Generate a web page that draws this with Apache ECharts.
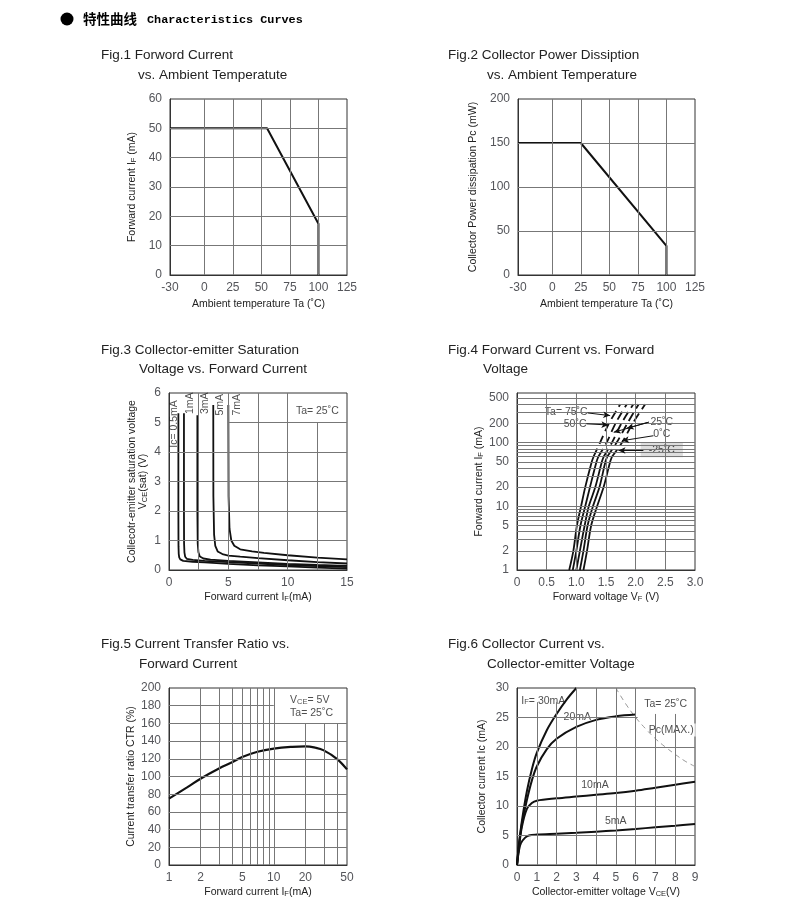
<!DOCTYPE html>
<html><head><meta charset="utf-8">
<script src="https://cdn.jsdelivr.net/npm/echarts@6/dist/echarts.min.js"></script>
<style>html,body{margin:0;padding:0;background:#fff}#c{width:800px;height:915px}</style>
</head><body><div id="c"></div>
<script>
const FONT = "'Liberation Sans', Arial, Helvetica, sans-serif";
const GRID = '#777';
const INK = '#111';

// ---------- Fig.1 Forward current vs ambient temperature
const fig1Ta = [-30, 55, 100, 100];
const fig1IF = [50, 50, 17.5, 0];
const fig1XTicks = [-30, 0, 25, 50, 75, 100, 125];
const fig1XGrid = [0, 25, 50, 75, 100];
const fig1YGrid = [10, 20, 30, 40, 50];

// ---------- Fig.2 Collector power dissipation vs ambient temperature
const fig2Ta = [-30, 25, 100, 100];
const fig2Pc = [150, 150, 33, 0];
const fig2XTicks = [-30, 0, 25, 50, 75, 100, 125];
const fig2XGrid = [0, 25, 50, 75, 100];
const fig2YGrid = [50, 100, 150];

// ---------- Fig.3 VCE(sat) vs IF  ([IF mA, VCE V])
const fig3Ic05 = [[0.79,5.31],[0.79,2],[0.80,0.8],[0.82,0.55],[0.86,0.43],[0.95,0.36],[1.2,0.31],[2,0.28],[3,0.26],[5,0.21],[7.5,0.16],[10,0.12],[12.5,0.08],[15,0.05]];
const fig3Ic1  = [[1.26,5.31],[1.26,2],[1.27,0.9],[1.30,0.6],[1.36,0.45],[1.5,0.38],[2,0.34],[3,0.31],[5,0.27],[7.5,0.22],[10,0.17],[12.5,0.13],[15,0.10]];
const fig3Ic3  = [[2.39,5.25],[2.39,2],[2.42,0.9],[2.48,0.6],[2.6,0.46],[2.9,0.39],[3.5,0.35],[5,0.31],[7.5,0.26],[10,0.21],[12.5,0.17],[15,0.14]];
const fig3Ic5  = [[3.73,5.59],[3.74,2.5],[3.80,1.2],[3.9,0.82],[4.1,0.63],[4.5,0.54],[5,0.49],[6,0.45],[7.5,0.40],[10,0.33],[12.5,0.27],[15,0.22]];
const fig3Ic7  = [[5.00,5.59],[5.02,2.5],[5.10,1.4],[5.25,1.0],[5.5,0.82],[6,0.70],[7,0.63],[8,0.58],[10,0.50],[12.5,0.42],[15,0.36]];
const fig3LabelText = ['Ic= 0.5mA', '1mA', '3mA', '5mA', '7mA'];
const fig3LabelX = [0.45, 1.81, 3.03, 4.3, 5.7];
const fig3LabelY = [4.95, 5.65, 5.65, 5.6, 5.6];
const fig3XGrid = [2.5, 5, 7.5, 10, 12.5];
const fig3YGrid = [1, 2, 3, 4, 5];

// ---------- Fig.4 IF vs VF (log IF)
const fig4IFSolid = [1, 2, 5, 10, 20, 50, 60];
const fig4IFDash = [60, 100, 200, 400];
const fig4Temps = ['75', '50', '25', '0', '-25'];
const fig4VFSolid = [
  [0.88, 0.95, 1.01, 1.08, 1.15, 1.26, 1.29],
  [0.94, 1.00, 1.07, 1.15, 1.23, 1.34, 1.37],
  [1.00, 1.06, 1.14, 1.21, 1.32, 1.43, 1.46],
  [1.06, 1.12, 1.19, 1.28, 1.39, 1.49, 1.52],
  [1.12, 1.18, 1.25, 1.35, 1.46, 1.57, 1.60]
];
const fig4VFDash = [
  [1.29, 1.40, 1.55, 1.74],
  [1.37, 1.51, 1.66, 1.85],
  [1.46, 1.60, 1.76, 1.96],
  [1.52, 1.68, 1.86, 2.05],
  [1.60, 1.77, 1.95, 2.16]
];
const fig4YTicks = [1, 2, 5, 10, 20, 50, 100, 200, 500];
const fig4XGrid = [0.5, 1, 1.5, 2, 2.5];
const fig4YGrid = [2,3,4,5,6,7,8,9,10,20,30,40,50,60,70,80,90,100,200,300,400,500];
const fig4Labels = [
  {t: 'Ta= 75˚C', x: 0.83, y: 305},
  {t: '50˚C', x: 0.98, y: 197},
  {t: '25˚C', x: 2.44, y: 211},
  {t: '0˚C', x: 2.44, y: 137},
  {t: '-25˚C', x: 2.44, y: 77, bg: '#d6d6d6'}
];
const fig4Leaders = [
  [[1.19, 292], [1.57, 265]],
  [[1.17, 197], [1.54, 189]],
  [[2.22, 209], [1.85, 168]],
  [[2.22, 209], [1.63, 145]],
  [[2.30, 128], [1.77, 107]],
  [[2.13, 75], [1.71, 75]]
];

// ---------- Fig.5 CTR vs IF (log IF)
const fig5IF = [1, 1.5, 2, 3, 4, 5, 7, 10, 15, 20, 25, 30, 40, 50];
const fig5CTR = [75, 88, 97.5, 109, 116, 122, 128, 131.5, 133.5, 134, 132.5, 129.5, 120, 108];
const fig5XTicks = [1, 2, 5, 10, 20, 50];
const fig5XGrid = [2, 3, 4, 5, 6, 7, 8, 9, 10, 20, 30, 40];
const fig5YGrid = [20, 40, 60, 80, 100, 120, 140, 160, 180];

// ---------- Fig.6 Ic vs VCE
const fig6IF30 = [[0,0],[0.1,3.5],[0.25,7.5],[0.5,12.5],[0.75,16.2],[1,19],[1.5,22.8],[2,25.6],[2.5,28],[3,30]];
const fig6IF20 = [[0,0],[0.1,3.5],[0.25,7],[0.5,11],[0.75,14.3],[1,16.7],[1.5,19.6],[2,21.4],[3,23.4],[4,24.6],[5,25.2],[6,25.5]];
const fig6IF10 = [[0,0],[0.1,3],[0.25,6.5],[0.5,9.5],[0.75,10.5],[1,10.9],[2,11.3],[3,11.6],[4,11.9],[5,12.2],[6,12.6],[7,13.1],[8,13.6],[9,14.1]];
const fig6IF5  = [[0,0],[0.1,2.5],[0.2,3.7],[0.4,4.6],[0.6,5.0],[1,5.15],[2,5.3],[3,5.45],[4,5.65],[5,5.85],[6,6.1],[7,6.4],[8,6.65],[9,6.95]];
const fig6PcMax = [[5,30],[5.5,27.3],[6,25],[6.5,23.1],[7,21.4],[7.5,20],[8,18.75],[8.5,17.6],[9,16.7]];
const fig6XGrid = [1, 2, 3, 4, 5, 6, 7, 8];
const fig6YGrid = [5, 10, 15, 20, 25];

// ---------- helpers
const RICH = {
  a: {fontSize: 10.5, fontFamily: FONT, color: '#222'},
  s: {fontSize: 7.5, fontFamily: FONT, color: '#222', verticalAlign: 'bottom'}
};

function gridSeries(gi, xs, ys, xr, yr, vr, hr) {
  const data = [];
  xs.forEach(x => { const r = (vr && vr(x)) || yr; data.push([{coord: [x, r[0]]}, {coord: [x, r[1]]}]); });
  ys.forEach(y => { const r = (hr && hr(y)) || xr; data.push([{coord: [r[0], y]}, {coord: [r[1], y]}]); });
  return {type: 'line', xAxisIndex: gi, yAxisIndex: gi, data: [], z: 1, silent: true,
    markLine: {silent: true, symbol: ['none', 'none'], label: {show: false},
      lineStyle: {color: GRID, width: 1, type: 'solid'}, emphasis: {disabled: true}, data}};
}
function curve(gi, data, extra) {
  return Object.assign({type: 'line', xAxisIndex: gi, yAxisIndex: gi, data, showSymbol: false, symbol: 'none',
    z: 3, silent: true, lineStyle: {color: INK, width: 2}}, extra || {});
}
function labelSeries(gi, items) {
  return {type: 'scatter', xAxisIndex: gi, yAxisIndex: gi, symbolSize: 0, z: 2, silent: true,
    data: items.map(it => ({value: [it.x, it.y], label: Object.assign({show: true, position: 'inside',
      formatter: it.t, color: '#222', fontSize: 10.5, fontFamily: FONT, rich: RICH,
      backgroundColor: it.bg || 'transparent', padding: it.pad || [1, 2]}, it.style || {})}))};
}
function axis(gi, o) {
  const base = {gridIndex: gi, nameLocation: 'middle',
    axisLine: {show: true, onZero: false, lineStyle: {color: '#333', width: 1}},
    axisTick: {show: false}, splitLine: {show: false},
    axisLabel: Object.assign({fontSize: 10.5, color: '#222', fontFamily: FONT}, o.axisLabel || {}),
    nameTextStyle: {rich: RICH, fontFamily: FONT, fontSize: 10.5, color: '#222'}};
  const r = Object.assign(base, o);
  r.axisLabel = base.axisLabel;
  return r;
}

const xAxis = [
  axis(0, {type: 'value', min: -30, max: 125, axisLabel: {customValues: fig1XTicks, margin: 7}, name: '{a|Ambient temperature Ta (˚C)}', nameGap: 24}),
  axis(1, {type: 'value', min: -30, max: 125, axisLabel: {customValues: fig2XTicks, margin: 7}, name: '{a|Ambient temperature Ta (˚C)}', nameGap: 24}),
  axis(2, {type: 'value', min: 0, max: 15, interval: 5, axisLabel: {margin: 7}, name: '{a|Forward current I}{s|F}{a|(mA)}', nameGap: 22}),
  axis(3, {type: 'value', min: 0, max: 3, interval: 0.5, axisLabel: {margin: 7, formatter: v => v === 0 ? '0' : v.toFixed(1)}, name: '{a|Forward voltage V}{s|F}{a| (V)}', nameGap: 22}),
  axis(4, {type: 'log', logBase: 10, min: 1, max: 50, axisLabel: {customValues: fig5XTicks, margin: 7}, name: '{a|Forward current I}{s|F}{a|(mA)}', nameGap: 22}),
  axis(5, {type: 'value', min: 0, max: 9, interval: 1, axisLabel: {margin: 7}, name: '{a|Collector-emitter voltage V}{s|CE}{a|(V)}', nameGap: 22})
];
const yAxis = [
  axis(0, {type: 'value', min: 0, max: 60, interval: 10, axisLabel: {margin: 8}, name: '{a|Forward current I}{s|F}{a| (mA)}', nameGap: 32, nameRotate: 90}),
  axis(1, {type: 'value', min: 0, max: 200, interval: 50, axisLabel: {margin: 8}, name: '{a|Collector Power dissipation Pc (mW)}', nameGap: 39, nameRotate: 90}),
  axis(2, {type: 'value', min: 0, max: 6, interval: 1, axisLabel: {margin: 8}, name: '{a|Collecotr-emitter saturation voltage}\n{a|V}{s|CE}{a|(sat) (V)}', nameGap: 20, nameRotate: 90}),
  axis(3, {type: 'log', logBase: 10, min: 1, max: 600, axisLabel: {customValues: fig4YTicks, margin: 8}, name: '{a|Forward current I}{s|F}{a| (mA)}', nameGap: 27, nameRotate: 90}),
  axis(4, {type: 'value', min: 0, max: 200, interval: 20, axisLabel: {margin: 8}, name: '{a|Current transfer ratio CTR (%)}', nameGap: 30, nameRotate: 90}),
  axis(5, {type: 'value', min: 0, max: 30, interval: 5, axisLabel: {margin: 8}, name: '{a|Collector current Ic (mA)}', nameGap: 29, nameRotate: 90})
];

const grid = [
  {left: 170, top: 99, width: 177, height: 176},
  {left: 518, top: 99, width: 177, height: 176},
  {left: 169, top: 393, width: 178, height: 177},
  {left: 517, top: 393, width: 178, height: 177},
  {left: 169, top: 688, width: 178, height: 177},
  {left: 517, top: 688, width: 178, height: 177}
].map(g => Object.assign({show: true, borderColor: '#333', borderWidth: 1, backgroundColor: 'transparent', containLabel: false, outerBoundsMode: 'none'}, g));

const series = [];
// Fig1
series.push(gridSeries(0, fig1XGrid, fig1YGrid, [-30, 125], [0, 60]));
series.push(curve(0, fig1Ta.map((t, i) => [t, fig1IF[i]])));
// Fig2
series.push(gridSeries(1, fig2XGrid, fig2YGrid, [-30, 125], [0, 200]));
series.push(curve(1, fig2Ta.map((t, i) => [t, fig2Pc[i]])));
// Fig3
series.push(gridSeries(2, fig3XGrid, fig3YGrid, [0, 15], [0, 6],
  x => x === 12.5 ? [0, 5] : null, y => y === 5 ? [5, 15] : null));
[fig3Ic05, fig3Ic1, fig3Ic3, fig3Ic5, fig3Ic7].forEach(d => series.push(curve(2, d, {lineStyle: {color: INK, width: 1.8}})));
series.push(labelSeries(2, fig3LabelText.map((t, i) => ({t, x: fig3LabelX[i], y: fig3LabelY[i], style: {rotate: 90}}))
  .concat([{t: 'Ta= 25˚C', x: 12.5, y: 5.4}])));
// Fig4
series.push(gridSeries(3, fig4XGrid, fig4YGrid, [0, 3], [1, 600]));
fig4Temps.forEach((tc, k) => {
  series.push(curve(3, fig4IFSolid.map((v, i) => [fig4VFSolid[k][i], v]), {smooth: 0.3, lineStyle: {color: INK, width: 1.8}}));
  series.push(curve(3, fig4IFDash.map((v, i) => [fig4VFDash[k][i], v]), {smooth: 0.3, lineStyle: {color: INK, width: 1.8, type: [9, 5]}}));
});
series.push(labelSeries(3, fig4Labels.map(l => ({t: l.t, x: l.x, y: l.y, bg: l.bg || '#fff', pad: l.bg ? [2, 8] : [1, 2]}))));
series.push({type: 'line', xAxisIndex: 3, yAxisIndex: 3, data: [], z: 4, silent: true,
  markLine: {silent: true, symbol: ['none', 'arrow'], symbolSize: [5, 7], label: {show: false},
    lineStyle: {color: INK, width: 1, type: 'solid'}, emphasis: {disabled: true},
    data: fig4Leaders.map(s => [{coord: s[0]}, {coord: s[1]}])}});
// Fig5
series.push(gridSeries(4, fig5XGrid, fig5YGrid, [1, 50], [0, 200],
  x => x >= 20 ? [0, 160] : null, y => y === 180 ? [1, 10] : null));
series.push(curve(4, fig5IF.map((v, i) => [v, fig5CTR[i]]), {smooth: 0.4, lineStyle: {color: INK, width: 2.2}}));
series.push(labelSeries(4, [
  {t: '{a|V}{s|CE}{a|= 5V}', x: 13.7, y: 186.4, style: {align: 'left'}},
  {t: 'Ta= 25˚C', x: 13.7, y: 172, style: {align: 'left'}}
]));
// Fig6
series.push(gridSeries(5, fig6XGrid, fig6YGrid, [0, 9], [0, 30],
  x => x <= 2 ? [0, 27.6] : (x >= 7 ? [0, 25.6] : null), y => y === 25 ? [0, 6.1] : null));
series.push(curve(5, fig6PcMax, {smooth: 0.4, lineStyle: {color: '#999', width: 1, type: [5, 4]}}));
[fig6IF30, fig6IF20, fig6IF10, fig6IF5].forEach(d => series.push(curve(5, d, {smooth: 0.35})));
series.push(labelSeries(5, [
  {t: '{a|I}{s|F}{a|= 30mA}', x: 0.12, y: 27.85, bg: '#fff', style: {align: 'left'}},
  {t: '20mA', x: 3.05, y: 25.0, bg: '#fff'},
  {t: 'Ta= 25˚C', x: 7.52, y: 27.3, bg: '#fff'},
  {t: 'Pc(MAX.)', x: 7.8, y: 22.9, bg: '#fff'},
  {t: '10mA', x: 3.94, y: 13.56, bg: '#fff'},
  {t: '5mA', x: 4.99, y: 7.5, bg: '#fff'}
]));

const titleStyle = {fontSize: 13.5, fontWeight: 'normal', color: '#222', fontFamily: FONT};
const titles = [
  ['Fig.1 Forword Current', 101, 48], ['vs. Ambient Temperatute', 138, 68],
  ['Fig.2 Collector Power Dissiption', 448, 48], ['vs. Ambient Temperature', 487, 68],
  ['Fig.3 Collector-emitter Saturation', 101, 343], ['Voltage vs. Forward Current', 139, 362],
  ['Fig.4 Forward Current vs. Forward', 448, 343], ['Voltage', 483, 362],
  ['Fig.5 Current Transfer Ratio vs.', 101, 637], ['Forward Current', 139, 657],
  ['Fig.6 Collector Current vs.', 448, 637], ['Collector-emitter Voltage', 487, 657]
].map(t => ({text: t[0], left: t[1], top: t[2], padding: 0, textStyle: titleStyle}));

const chart = echarts.init(document.getElementById('c'), null, {renderer: 'canvas', width: 800, height: 915});
chart.setOption({
  animation: false,
  backgroundColor: '#fff',
  textStyle: {fontFamily: FONT},
  title: titles,
  grid, xAxis, yAxis, series,
  graphic: [
    {type: 'circle', shape: {cx: 67, cy: 19, r: 6.5}, style: {fill: '#000'}},
    {type: 'text', x: 83, y: 19, style: {text: '特性曲线', verticalAlign: 'middle',
      font: "bold 13.5px 'Noto Sans CJK SC', sans-serif", fill: '#000'}},
    {type: 'text', x: 147, y: 20, style: {text: 'Characteristics Curves', verticalAlign: 'middle',
      font: "bold 11.8px 'Liberation Mono', 'DejaVu Sans Mono', monospace", fill: '#000'}}
  ]
});
</script></body></html>
